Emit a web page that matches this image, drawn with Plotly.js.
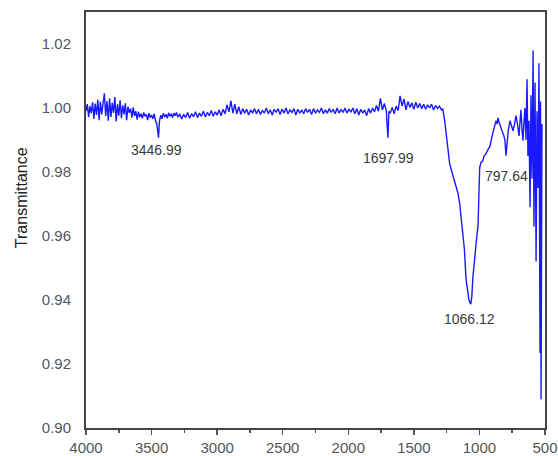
<!DOCTYPE html>
<html>
<head>
<meta charset="utf-8">
<script src="https://cdn.plot.ly/plotly-3.0.1.min.js"></script>
<style>html,body{margin:0;padding:0;background:#fff;}#chart{width:558px;height:456px;}</style>
</head>
<body>
<div id="chart"></div>
<script>
// Wavenumber (cm-1) and transmittance
const wavenumber = [
4000,3990,3980,3970,3960,3950,3940,3930,3920,3910,3900,3890,3880,3870,3860,3850,3840,3830,3820,3810,
3800,3790,3780,3770,3760,3750,3740,3730,3720,3710,3700,3690,3680,3670,3660,3650,3640,3630,3620,3610,
3600,3590,3580,3570,3560,3550,3540,3530,3520,3510,3500,3490,3480,3470,3460,3447,3440,3430,3420,3410,
3400,3390,3380,3370,3360,3350,3340,3330,3320,3310,3300,
3285,3270,3255,3240,3225,3210,3195,3180,3165,3150,3135,3120,3105,3090,3075,3060,3045,3030,3015,3000,
2985,2970,2955,2940,2925,2910,2895,2880,2865,2850,2835,2820,2805,2790,2775,2760,2745,2730,2715,2700,
2685,2670,2655,2640,2625,2610,2595,2580,2565,2550,2535,2520,2505,2490,2475,2460,2445,2430,2415,2400,
2385,2370,2355,2340,2325,2310,2295,2280,2265,2250,2235,2220,2205,2190,2175,2160,2145,2130,2115,2100,
2085,2070,2055,2040,2025,2010,1995,1980,1965,1950,1935,1920,1905,1890,1875,1860,1845,1830,1815,1800,
1785,1770,1755,1740,1725,1710,1698,1690,1680,1665,1650,1635,1620,1605,1590,1575,1560,1545,1530,1515,
1500,1485,1470,1455,1440,1425,1410,1395,1380,1365,1350,1335,1320,1305,1290,1280,
1265,1250,1235,1227,1210,1195,1180,1163,1150,1140,1125,1115,1102,1090,1080,1066,1058,1050,1040,1030,
1020,1011,1005,998,988,975,965,950,935,920,905,890,874,865,858,850,840,828,815,805,
797.64,790,780,767,755,744,732,721,710,698,690,683,675,668,660,653,
645,637,630,622,614,607,599,591,584,576,568,561,553,546,538,534,530,526,523
];
const transmittance = [
0.9990,1.0012,0.9972,1.0006,0.9984,1.0018,0.9966,1.0014,0.9978,1.0026,0.9962,1.0020,0.9980,1.0010,1.0046,0.9975,1.0022,0.9960,1.0030,0.9972,
1.0016,0.9985,1.0034,0.9958,1.0012,0.9976,1.0024,0.9968,1.0008,0.9980,1.0015,0.9962,1.0004,0.9985,0.9998,0.9970,1.0002,0.9975,0.9990,0.9964,
0.9988,0.9972,0.9982,0.9968,0.9986,0.9974,0.9980,0.9962,0.9984,0.9970,0.9978,0.9966,0.9982,0.9960,0.9950,0.9907,0.9958,0.9978,0.9966,0.9984,
0.9972,0.9980,0.9968,0.9985,0.9974,0.9982,0.9970,0.9984,0.9976,0.9986,0.9972,
0.9980,0.9966,0.9980,0.9970,0.9986,0.9968,0.9982,0.9973,0.9988,0.9970,0.9984,0.9974,0.9990,0.9972,0.9986,0.9976,0.9992,0.9974,0.9988,0.9978,
0.9994,0.9976,0.9996,0.9982,1.0010,0.9988,1.0022,0.9984,1.0012,0.9982,1.0004,0.9980,0.9998,0.9984,0.9996,0.9978,0.9994,0.9984,0.9998,0.9982,
0.9996,0.9980,0.9992,0.9984,1.0000,0.9982,0.9994,0.9978,0.9996,0.9986,0.9998,0.9980,0.9996,0.9984,1.0000,0.9982,0.9994,0.9986,0.9998,0.9978,
0.9996,0.9984,0.9994,0.9982,0.9998,0.9986,0.9996,0.9980,0.9998,0.9984,0.9994,0.9986,1.0000,0.9982,0.9994,0.9984,0.9998,0.9986,0.9996,0.9982,
1.0000,0.9984,0.9996,0.9986,1.0000,0.9984,0.9996,0.9988,1.0000,0.9982,0.9998,0.9978,0.9996,0.9984,0.9994,0.9976,0.9998,0.9984,1.0000,0.9988,
1.0008,0.9990,1.0030,0.9994,1.0014,0.9992,0.9907,0.9990,0.9984,1.0002,0.9982,1.0006,0.9992,1.0038,1.0006,1.0028,0.9994,1.0020,1.0002,1.0016,
0.9996,1.0018,1.0000,1.0014,0.9998,1.0012,0.9996,1.0010,1.0000,1.0012,0.9994,1.0008,0.9998,1.0006,0.9994,0.9998,
0.9960,0.9905,0.9855,0.9826,0.9800,0.9780,0.9760,0.9733,0.9700,0.9660,0.9617,0.9560,0.9465,0.9420,0.9400,0.9387,0.9410,0.9470,0.9520,0.9570,
0.9600,0.9630,0.9720,0.9814,0.9830,0.9835,0.9850,0.9857,0.9870,0.9880,0.9910,0.9935,0.9960,0.9950,0.9969,0.9955,0.9940,0.9929,0.9915,0.9898,
0.9851,0.9890,0.9930,0.9960,0.9945,0.9929,0.9950,0.9976,0.9950,0.9913,0.9960,0.9994,0.9930,0.9898,0.9960,1.0000,
0.9900,1.0090,0.9850,0.9960,0.9690,1.0040,0.9780,1.0180,0.9630,1.0080,0.9520,0.9990,0.9750,1.0140,0.9234,1.0020,0.9090,0.9850,0.9950
];

const peakLabels = ['3446.99', '1697.99', '1066.12', '797.64'];
const peakLabelX = [3459, 1697, 1072, 797];
const peakLabelY = [0.9870, 0.9845, 0.9340, 0.9789];

const xTickVals = [4000, 3500, 3000, 2500, 2000, 1500, 1000, 500];
const yTickVals = [0.90, 0.92, 0.94, 0.96, 0.98, 1.00, 1.02];

const trace = {
  x: wavenumber,
  y: transmittance,
  type: 'scatter',
  mode: 'lines',
  line: {color: 'rgb(25,25,255)', width: 1.4},
  hoverinfo: 'skip'
};

const annotations = peakLabels.map((t, i) => ({
  x: peakLabelX[i], y: peakLabelY[i], xref: 'x', yref: 'y',
  text: t, showarrow: false,
  font: {family: 'Arial, Liberation Sans, sans-serif', size: 14, color: '#3a3a3a'}
}));

// y-axis title placed as rotated text left of the tick labels
annotations.push({
  xref: 'paper', yref: 'paper', x: -0.139, y: 0.553,
  xanchor: 'center', yanchor: 'middle', textangle: -90,
  text: 'Transmittance', showarrow: false,
  font: {family: 'Arial, Liberation Sans, sans-serif', size: 16, color: '#222'}
});

const layout = {
  width: 558, height: 456,
  margin: {l: 86, r: 13, t: 12, b: 28},
  paper_bgcolor: '#fff', plot_bgcolor: '#fff',
  showlegend: false,
  xaxis: {
    range: [4000, 500],
    tickvals: xTickVals,
    ticktext: xTickVals.map(String),
    ticks: 'outside', ticklen: 5, tickwidth: 1.5, tickcolor: '#555',
    minor: {dtick: 250, ticks: 'outside', ticklen: 3, tickwidth: 1.5, tickcolor: '#555'},
    showgrid: false, zeroline: false,
    showline: true, linecolor: '#444', linewidth: 2, mirror: true,
    tickfont: {family: 'Arial, Liberation Sans, sans-serif', size: 15, color: '#555'}
  },
  yaxis: {
    range: [0.90, 1.03],
    tickvals: yTickVals,
    ticktext: yTickVals.map(v => v.toFixed(2)),
    ticks: 'outside', ticklen: 10, tickcolor: 'rgba(0,0,0,0)',
    showgrid: false, zeroline: false,
    showline: true, linecolor: '#444', linewidth: 2, mirror: true,
    tickfont: {family: 'Arial, Liberation Sans, sans-serif', size: 15, color: '#555'}
  },
  annotations: annotations
};

Plotly.newPlot('chart', [trace], layout, {displayModeBar: false, staticPlot: true});
</script>
</body>
</html>
